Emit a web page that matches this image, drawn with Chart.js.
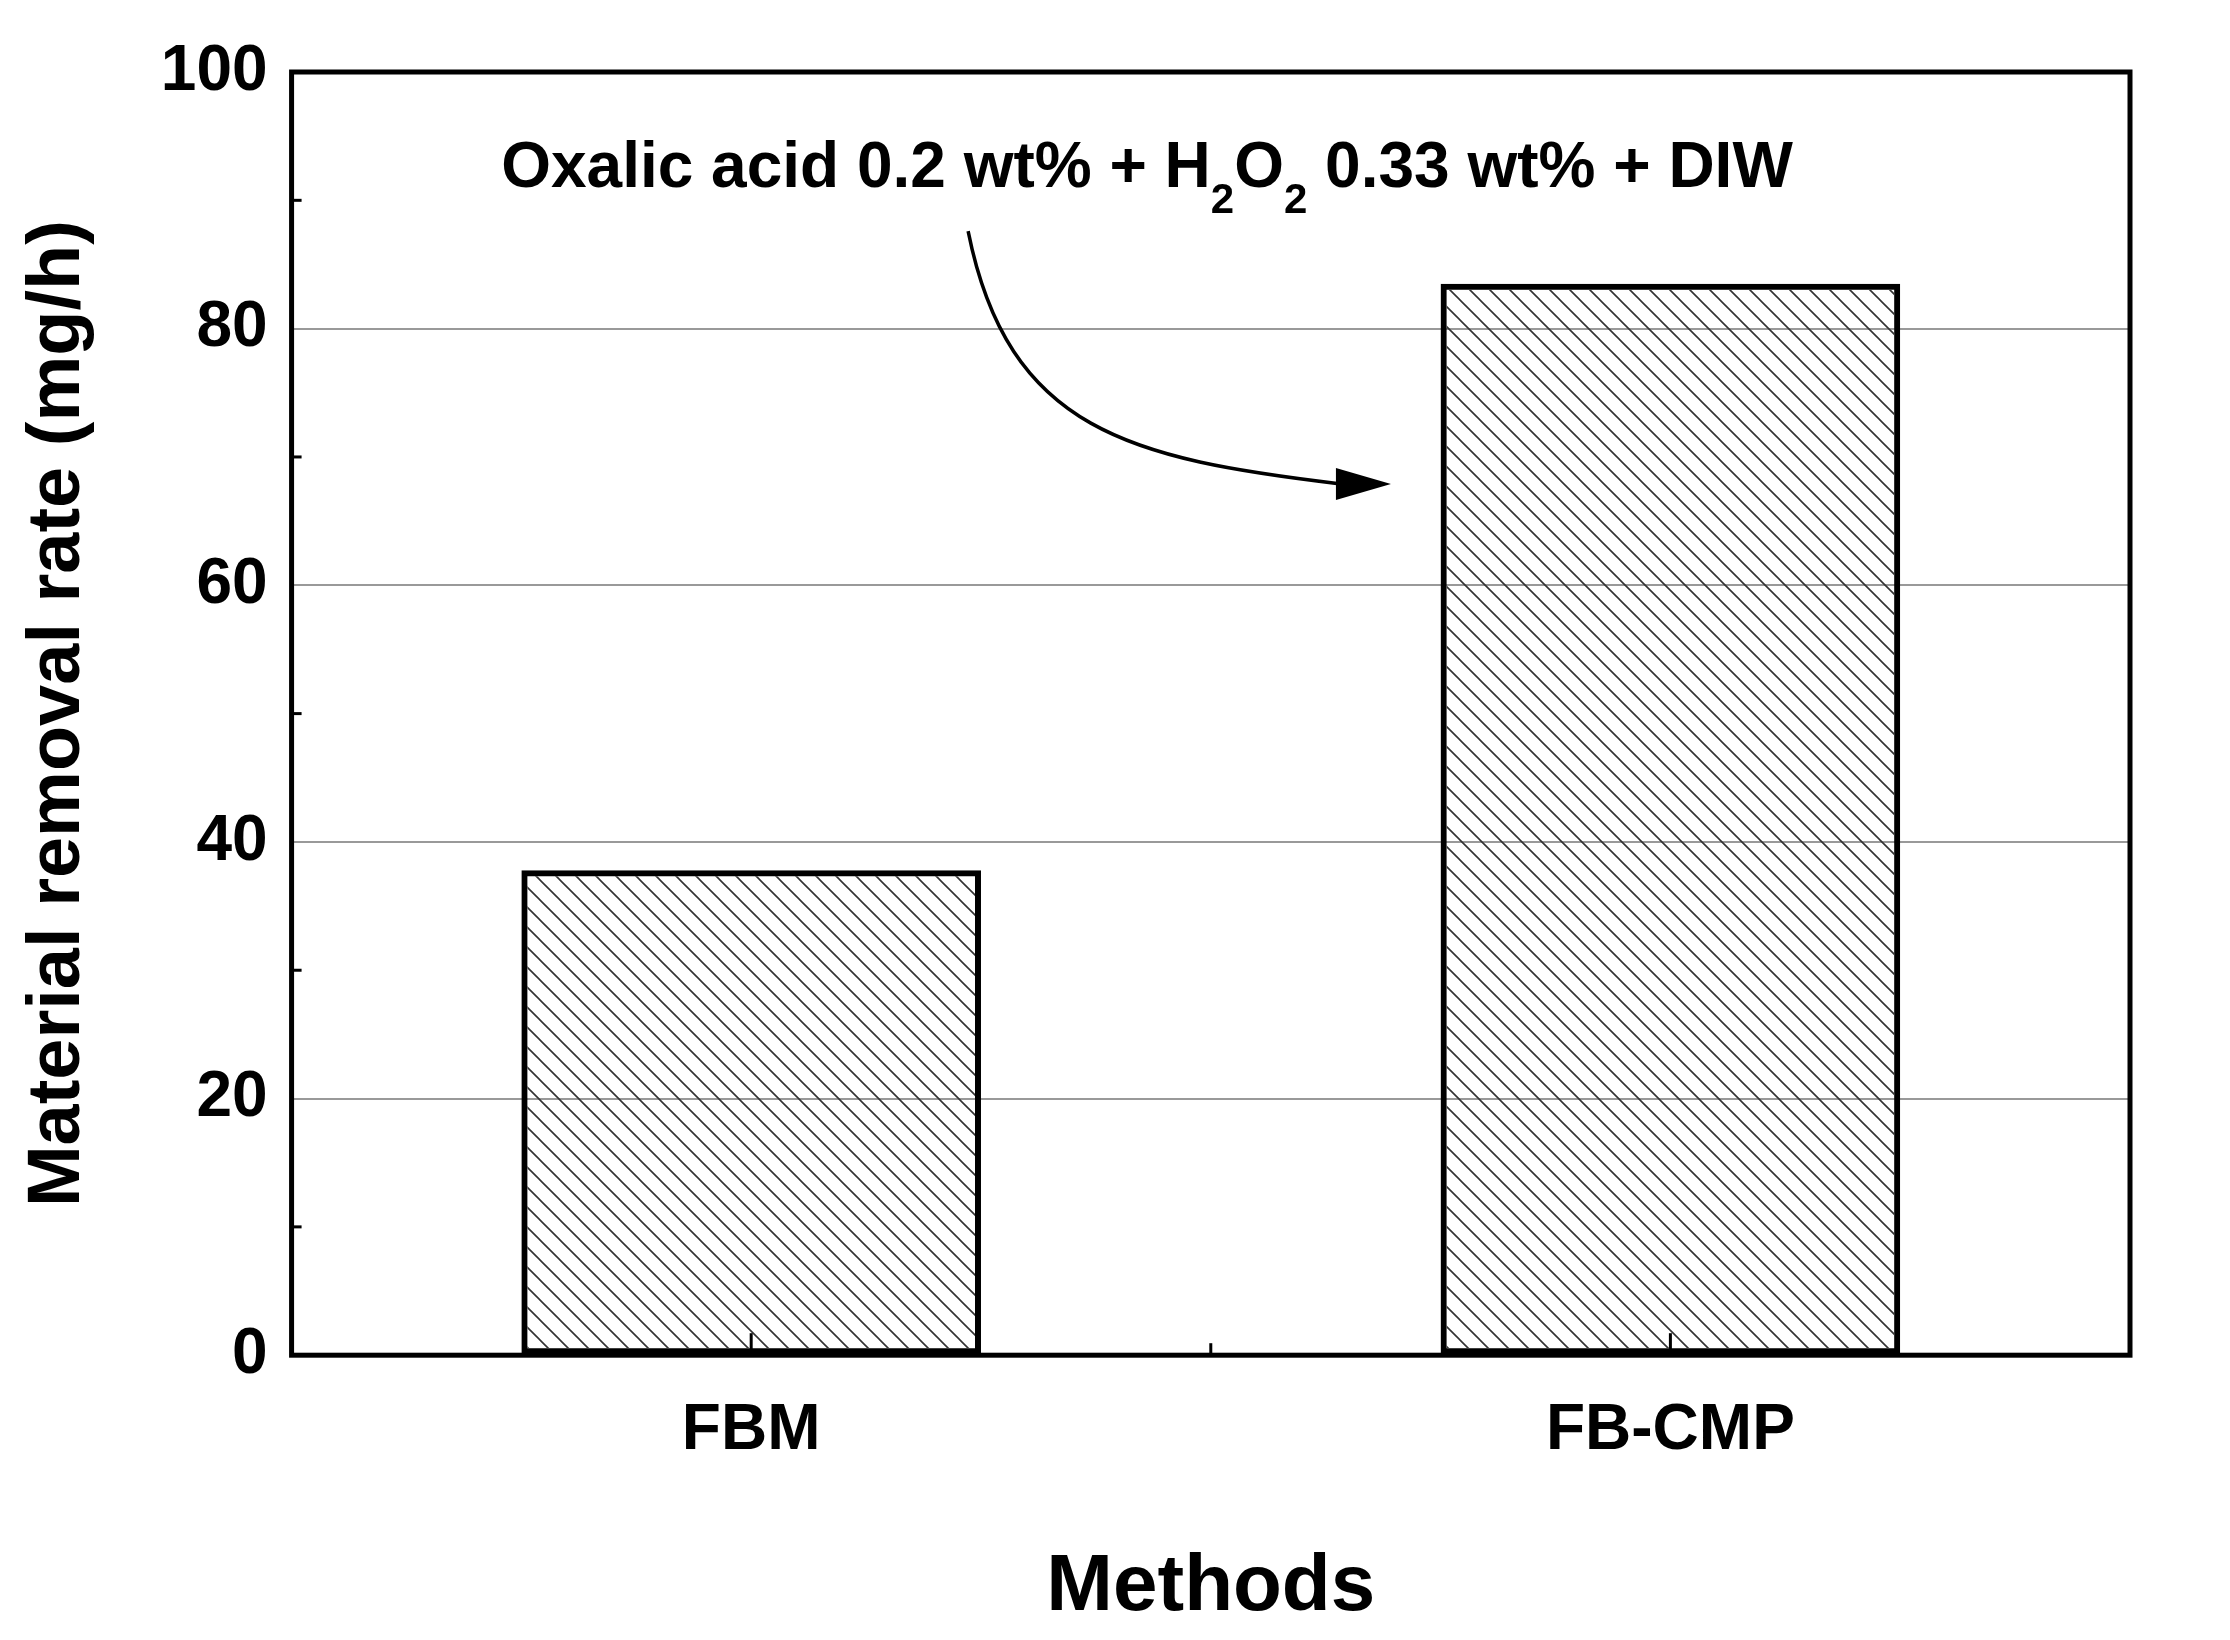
<!DOCTYPE html>
<html>
<head>
<meta charset="utf-8">
<script src="https://cdn.jsdelivr.net/npm/chart.js@4/dist/chart.umd.min.js"></script>
<style>
  html, body { margin: 0; background: #fff; }
  #wrap { width: 2230px; height: 1640px; }
</style>
</head>
<body>
<div id="wrap"><canvas id="c" width="2230" height="1640"></canvas></div>
<script>
  const categories = ['FBM', 'FB-CMP'];
  const removalRate = [37.8, 83.5];
  const yTicks = [0, 20, 40, 60, 80, 100];

  const FONT = '"Liberation Sans", Arial, sans-serif';

  function hatch() {
    const p = document.createElement('canvas');
    p.width = 20; p.height = 20;
    const g = p.getContext('2d');
    g.strokeStyle = '#333';
    g.lineWidth = 1.6;
    g.beginPath();
    g.moveTo(0, 0); g.lineTo(20, 20);
    g.moveTo(-10, 10); g.lineTo(10, 30);
    g.moveTo(10, -10); g.lineTo(30, 10);
    g.stroke();
    return document.getElementById('c').getContext('2d').createPattern(p, 'repeat');
  }

  // frame, minor ticks, annotation
  const extras = {
    id: 'extras',
    afterDraw(chart) {
      const { ctx, chartArea: a, scales } = chart;
      const y = scales.y, x = scales.x;
      ctx.save();
      ctx.strokeStyle = '#000';
      ctx.lineWidth = 5;
      ctx.strokeRect(a.left, a.top, a.right - a.left, a.bottom - a.top);
      ctx.lineWidth = 3;
      for (let v = 10; v < 100; v += 20) {
        const py = y.getPixelForValue(v);
        ctx.beginPath(); ctx.moveTo(a.left, py); ctx.lineTo(a.left + 10, py); ctx.stroke();
      }
      categories.forEach((c, i) => {
        const px = x.getPixelForValue(i);
        ctx.beginPath(); ctx.moveTo(px, a.bottom); ctx.lineTo(px, a.bottom - 22); ctx.stroke();
      });
      const mid = (x.getPixelForValue(0) + x.getPixelForValue(1)) / 2;
      ctx.beginPath(); ctx.moveTo(mid, a.bottom); ctx.lineTo(mid, a.bottom - 12); ctx.stroke();

      // annotation text
      const w = a.right - a.left;
      ctx.fillStyle = '#000';
      ctx.textBaseline = 'alphabetic';
      const parts = [['Oxalic acid 0.2 wt% + H', 0], ['2', 1], ['O', 0], ['2', 1], [' 0.33 wt% + DIW', 0]];
      let tx = a.left + 0.114 * w;
      const ty = y.getPixelForValue(91);
      parts.forEach(([s, sub]) => {
        ctx.font = (sub ? 'bold 42px ' : 'bold 64px ') + FONT;
        ctx.fillText(s, tx, ty + (sub ? 26 : 0));
        tx += ctx.measureText(s).width;
      });

      // curved arrow
      const sx = a.left + 0.368 * w, sy = y.getPixelForValue(87.6);
      const ex = a.left + 0.598 * w, ey = y.getPixelForValue(67.9);
      ctx.lineWidth = 3.5;
      ctx.beginPath();
      ctx.moveTo(sx, sy);
      ctx.bezierCurveTo(sx + 40, sy + 200, ex - 260, ey - 25, ex - 50, ey);
      ctx.stroke();
      ctx.beginPath();
      ctx.moveTo(ex, ey);
      ctx.lineTo(ex - 55, ey - 16);
      ctx.lineTo(ex - 55, ey + 16);
      ctx.closePath();
      ctx.fill();
      ctx.restore();
    }
  };

  new Chart(document.getElementById('c'), {
    type: 'bar',
    data: {
      labels: categories,
      datasets: [{
        data: removalRate,
        backgroundColor: hatch(),
        borderColor: '#000',
        borderWidth: 6,
        borderSkipped: false,
        barPercentage: 0.5,
        categoryPercentage: 1
      }]
    },
    options: {
      responsive: false,
      animation: false,
      layout: { padding: { top: 72, right: 100, left: 10, bottom: 0 } },
      plugins: { legend: { display: false }, tooltip: { enabled: false } },
      scales: {
        x: {
          grid: { display: false },
          border: { display: false },
          ticks: { color: '#000', font: { family: FONT, weight: 'bold', size: 64 }, padding: 30 },
          title: { display: true, text: 'Methods', color: '#000', font: { family: FONT, weight: 'bold', size: 80 }, padding: { top: 40 } }
        },
        y: {
          min: 0, max: 100,
          afterBuildTicks(s) { s.ticks = yTicks.map(v => ({ value: v })); },
          grid: { color: '#999', lineWidth: 2, drawTicks: false },
          border: { display: false },
          ticks: { color: '#000', font: { family: FONT, weight: 'bold', size: 64 }, padding: 24 },
          title: { display: true, text: 'Material removal rate (mg/h)', color: '#000', font: { family: FONT, weight: 'bold', size: 74 }, padding: { bottom: 34 } }
        }
      }
    },
    plugins: [extras]
  });
</script>
</body>
</html>
